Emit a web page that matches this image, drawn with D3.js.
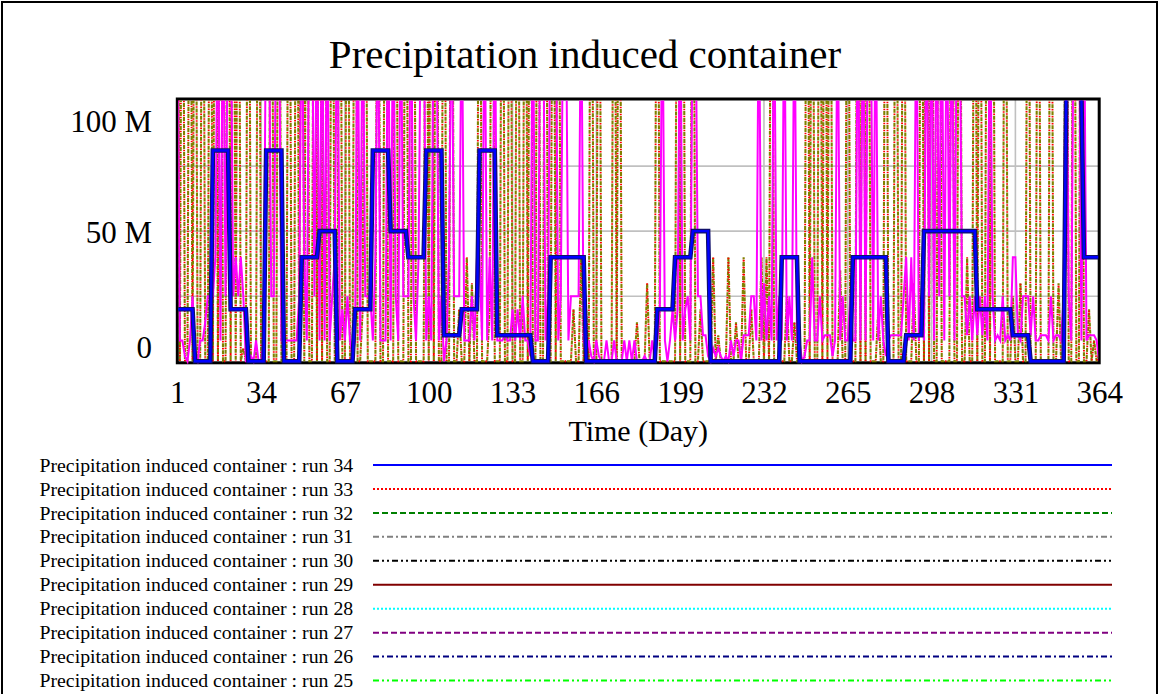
<!DOCTYPE html>
<html>
<head>
<meta charset="utf-8">
<script src="https://cdn.jsdelivr.net/npm/d3@7"></script>
<style>
  html, body { margin: 0; padding: 0; background: #fff; }
  svg { display: block; }
  text { font-family: "Liberation Serif", "Times New Roman", serif; fill: #000; }
</style>
</head>
<body>
<svg id="chart" width="1160" height="694"></svg>
<script>
// Daily values, millions. Days 1..364, one row per week.
const run34 = [
  20,20,20,20,20,20,20,  0,0,0,0,0,0,0,  81,81,81,81,81,81,81,  20,20,20,20,20,20,20,
  0,0,0,0,0,0,0,  81,81,81,81,81,81,81,  0,0,0,0,0,0,0,  40,40,40,40,40,40,40,
  50,50,50,50,50,50,50,  0,0,0,0,0,0,0,  20,20,20,20,20,20,20,  81,81,81,81,81,81,81,
  50,50,50,50,50,50,50,  40,40,40,40,40,40,40,  81,81,81,81,81,81,81,  10,10,10,10,10,10,10,
  20,20,20,20,20,20,20,  81,81,81,81,81,81,81,  10,10,10,10,10,10,10,  10,10,10,10,10,10,10,
  0,0,0,0,0,0,0,  40,40,40,40,40,40,40,  40,40,40,40,40,40,40,  0,0,0,0,0,0,0,
  0,0,0,0,0,0,0,  0,0,0,0,0,0,0,  0,0,0,0,0,0,0,  20,20,20,20,20,20,20,
  40,40,40,40,40,40,40,  50,50,50,50,50,50,50,  0,0,0,0,0,0,0,  0,0,0,0,0,0,0,
  0,0,0,0,0,0,0,  0,0,0,0,0,0,0,  40,40,40,40,40,40,40,  0,0,0,0,0,0,0,
  0,0,0,0,0,0,0,  0,0,0,0,0,0,0,  40,40,40,40,40,40,40,  40,40,40,40,40,40,40,
  0,0,0,0,0,0,0,  10,10,10,10,10,10,10,  50,50,50,50,50,50,50,  50,50,50,50,50,50,50,
  50,50,50,50,50,50,50,  20,20,20,20,20,20,20,  20,20,20,20,20,20,20,  10,10,10,10,10,10,10,
  0,0,0,0,0,0,0,  0,0,0,0,0,0,0,  102,102,102,102,102,102,102,  40,40,40,40,40,40,40
];

const run24 = [
  150,8,8,2,0,8,25,      2,0,8,8,15,25,25,      25,40,150,8,150,25,150,   150,25,40,25,40,25,0,
  0,2,0,8,0,0,8,         150,150,25,25,150,150,8, 8,8,8,8,8,8,25,       150,40,8,150,150,25,150,
  8,150,8,150,8,25,40,   150,8,20,8,25,8,2,     8,150,8,150,25,25,25,     8,40,150,8,8,8,150,
  8,150,25,8,150,25,25,  25,150,25,8,40,150,150, 8,25,8,150,150,8,25,    0,8,40,150,25,25,25,
  150,8,8,8,25,8,40,     40,8,150,8,40,8,150,   8,8,8,10,8,8,20,          8,20,8,25,8,8,2,
  150,8,8,150,150,8,25,  150,150,150,8,25,150,150, 8,25,25,25,25,150,8,  2,8,2,0,8,2,0,
  0,8,0,0,8,0,0,         0,8,0,8,0,8,0,         0,0,2,0,0,8,0,            8,20,150,8,0,8,20,
  8,20,150,8,20,25,8,    150,150,25,25,10,10,2, 0,5,2,5,2,0,2,            0,8,2,8,8,0,10,
  10,10,25,25,8,150,8,   30,8,25,8,150,8,25,    8,150,8,25,8,150,8,       8,0,2,8,8,40,8,
  8,25,8,10,10,10,2,     8,150,8,25,8,8,25,     8,8,150,8,150,8,150,      150,8,150,8,25,8,2,
  8,10,10,10,10,10,25,   40,8,40,8,150,8,25,    8,150,25,150,8,150,25,    150,8,150,25,150,8,150,
  150,25,25,10,25,8,25,  10,25,10,25,8,150,25,  8,10,8,25,8,10,8,         40,40,10,8,25,25,25,
  10,25,8,8,10,10,10,    8,25,8,10,10,8,25,     150,25,8,150,150,150,8,   150,8,10,10,10,8,0
];

const run23 = [
  250,0,250,0,0,250,0,   250,0,0,250,0,0,250,   0,250,0,250,0,0,250,     0,250,0,250,0,5,0,
  250,0,0,0,250,0,0,     0,0,250,0,0,250,0,     0,0,250,0,0,250,0,       250,0,250,0,0,250,0,
  250,0,250,0,0,250,0,   0,250,0,0,250,0,0,     250,0,0,20,250,0,0,      0,0,250,0,0,250,0,
  0,0,250,0,0,0,250,     0,0,250,0,0,0,0,       250,0,250,0,250,0,0,     250,0,0,250,0,0,20,
  0,0,40,0,30,0,0,       250,0,0,0,20,250,0,    0,0,250,0,0,250,0,       0,250,0,0,250,0,250,
  0,0,250,0,0,250,0,     0,250,0,250,0,0,0,     0,0,20,0,0,40,0,         20,0,250,0,0,250,0,
  0,0,0,0,250,0,250,     0,0,0,0,0,0,15,        0,0,0,30,0,0,0,          250,0,0,0,0,0,0,
  0,250,0,250,0,0,0,     250,0,0,20,0,0,0,      0,40,0,10,0,0,0,         40,0,0,15,0,0,40,
  0,0,20,0,0,0,40,       0,40,0,250,0,0,0,      0,0,25,0,0,15,0,         0,0,0,250,0,250,0,
  0,250,0,250,0,250,0,   0,0,35,0,0,250,0,      0,0,250,0,250,0,250,     0,0,0,20,0,0,250,
  0,0,0,250,0,0,250,     0,0,0,30,0,0,250,      0,250,0,250,0,0,250,     0,0,0,0,250,0,0,
  250,0,0,40,0,0,250,    0,250,0,0,250,0,250,   0,0,0,0,250,0,0,         25,0,0,30,0,0,250,
  0,0,0,250,0,0,0,       0,250,0,0,30,0,0,      250,0,0,250,0,0,250,     0,0,20,0,8,0,3
];

const xTickDays = [1, 34, 67, 100, 133, 166, 199, 232, 265, 298, 331, 364];
const yTickValues = [0, 50, 100];
const yTickLabels = ["0", "50 M", "100 M"];
const yGridValues = [25, 50, 75];

const legendRuns = [34, 33, 32, 31, 30, 29, 28, 27, 26, 25];
const legendColors = ["#0000ff", "#ff0000", "#008000", "#808080", "#000000",
                      "#800000", "#00ffff", "#800080", "#000080", "#00ff00"];
const legendDashes = [null, "2,2", "6,3", "6,3,2,3", "6,3,2,3,2,3",
                      null, "2,2", "6,3", "6,3,2,3", "6,3,2,3,2,3"];

const titleText = "Precipitation induced container";
const xAxisTitle = "Time (Day)";

const svg = d3.select("#chart");

// page frame
svg.append("rect")
  .attr("x", 2).attr("y", 2).attr("width", 1155).attr("height", 720)
  .attr("fill", "none").attr("stroke", "#000").attr("stroke-width", 2);

const plot = { left: 177.3, right: 1099.2, top: 99, bottom: 362.8 };

const x = d3.scaleLinear().domain([1, 364]).range([plot.left, plot.right]);
const y = d3.scaleLinear().domain([0, 100]).range([361.3, 101]);

svg.append("text")
  .attr("x", 585).attr("y", 68)
  .attr("text-anchor", "middle")
  .attr("font-size", 41)
  .text(titleText);

// gridlines
svg.append("g").selectAll("line").data(yGridValues).join("line")
  .attr("x1", plot.left).attr("x2", plot.right)
  .attr("y1", d => y(d)).attr("y2", d => y(d))
  .attr("stroke", "#c0c0c0").attr("stroke-width", 1.6);
svg.append("g").selectAll("line").data(xTickDays.slice(1, -1)).join("line")
  .attr("x1", d => x(d)).attr("x2", d => x(d))
  .attr("y1", plot.top).attr("y2", plot.bottom)
  .attr("stroke", "#c0c0c0").attr("stroke-width", 1.6);

// plot frame
svg.append("rect")
  .attr("x", plot.left).attr("y", plot.top)
  .attr("width", plot.right - plot.left).attr("height", plot.bottom - plot.top)
  .attr("fill", "none").attr("stroke", "#000").attr("stroke-width", 3);

svg.append("clipPath").attr("id", "plotClip").append("rect")
  .attr("x", plot.left + 1).attr("y", plot.top + 1.5)
  .attr("width", plot.right - plot.left - 2).attr("height", plot.bottom - plot.top);

const days = run34.map((_, i) => i + 1);
const line = d3.line().x(d => x(d.day)).y(d => y(d.v));
const series = arr => days.map((day, i) => ({ day, v: arr[i] }));

const lines = svg.append("g").attr("clip-path", "url(#plotClip)")
  .attr("fill", "none").attr("stroke-linejoin", "miter");

// olive dashed run with red dots set in its gaps
lines.append("path").datum(series(run23))
  .attr("d", line).attr("stroke", "#808000").attr("stroke-width", 2.1)
  .attr("stroke-dasharray", "4,3");
lines.append("path").datum(series(run23))
  .attr("d", line).attr("stroke", "#ff0000").attr("stroke-width", 1.9)
  .attr("stroke-dasharray", "1.5,5.5").attr("stroke-dashoffset", -4.75);
lines.append("path").datum(series(run24))
  .attr("d", line).attr("stroke", "#ff00ff").attr("stroke-width", 2);
lines.append("path").datum(series(run34))
  .attr("d", line).attr("stroke", "#10106a").attr("stroke-width", 4.6);
lines.append("path").datum(series(run34))
  .attr("d", line).attr("stroke", "#0000ff").attr("stroke-width", 2.4);

// axis labels
const xAxis = d3.axisBottom(x).tickValues(xTickDays).tickSize(0).tickPadding(0);
const gx = svg.append("g").attr("transform", "translate(0,403)").call(xAxis);
gx.select(".domain").remove();
gx.selectAll("text")
  .attr("font-size", 31).attr("dy", 0)
  .attr("font-family", "Liberation Serif, Times New Roman, serif").attr("fill", "#000");

const yLabelCenter = { 0: 346.7, 50: 231.7, 100: 120.7 };
const yAxis = d3.axisLeft(y).tickValues(yTickValues).tickSize(0).tickPadding(0)
  .tickFormat((d, i) => yTickLabels[i]);
const gy = svg.append("g").attr("transform", "translate(152,0)").call(yAxis);
gy.select(".domain").remove();
gy.selectAll(".tick").attr("transform", d => `translate(0,${yLabelCenter[d]})`);
gy.selectAll("text")
  .attr("font-size", 31).attr("x", 0).attr("dy", "0.35em")
  .attr("font-family", "Liberation Serif, Times New Roman, serif").attr("fill", "#000");

svg.append("text")
  .attr("x", (plot.left + plot.right) / 2).attr("y", 441)
  .attr("text-anchor", "middle").attr("font-size", 30)
  .text(xAxisTitle);

// legend
const legend = svg.append("g");
const rowY = i => 465 + 23.95 * i;
legend.selectAll("text").data(legendRuns).join("text")
  .attr("x", 39.5).attr("y", (d, i) => rowY(i) + 6.6)
  .attr("font-size", 19.8)
  .text(d => `${titleText} : run ${d}`);
legend.selectAll("line").data(legendRuns).join("line")
  .attr("x1", 373).attr("x2", 1112)
  .attr("y1", (d, i) => rowY(i)).attr("y2", (d, i) => rowY(i))
  .attr("stroke", (d, i) => legendColors[i])
  .attr("stroke-width", 2)
  .attr("stroke-dasharray", (d, i) => legendDashes[i]);
</script>
</body>
</html>
